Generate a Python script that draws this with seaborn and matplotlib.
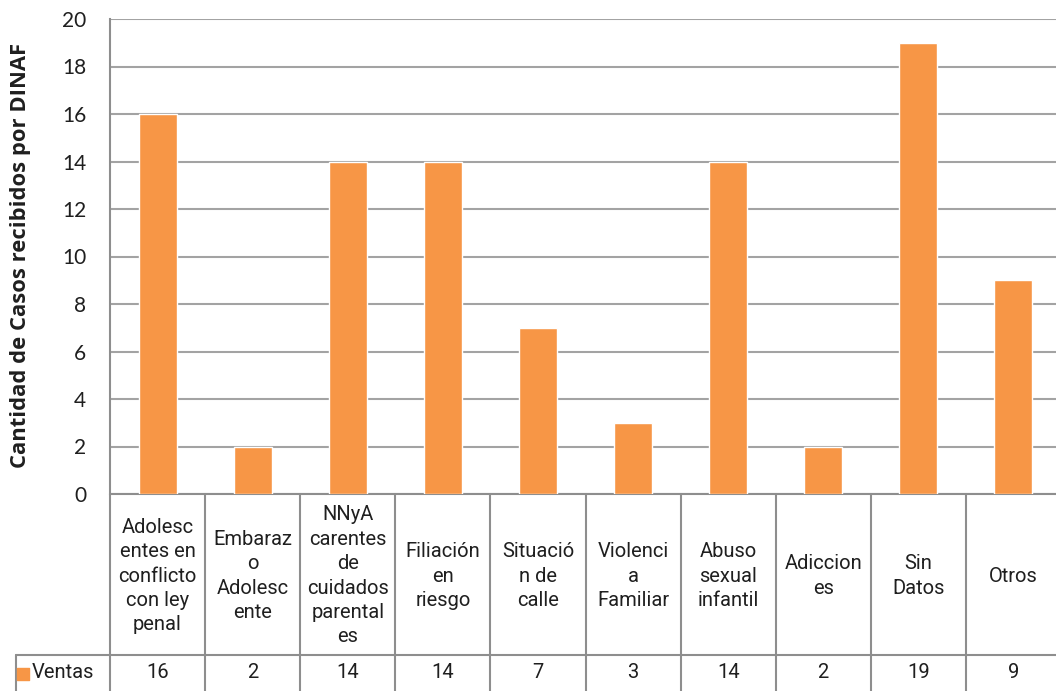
import matplotlib
matplotlib.use("Agg")
import pandas as pd
import seaborn as sns
import matplotlib.pyplot as plt
import matplotlib.transforms as mtransforms

# datos del gráfico
categorias = [
    "Adolesc\nentes en\nconflicto\ncon ley\npenal",
    "Embaraz\no\nAdolesc\nente",
    "NNyA\ncarentes\nde\ncuidados\nparental\nes",
    "Filiación\nen\nriesgo",
    "Situació\nn de\ncalle",
    "Violenci\na\nFamiliar",
    "Abuso\nsexual\ninfantil",
    "Adiccion\nes",
    "Sin\nDatos",
    "Otros",
]
casos = [16, 2, 14, 14, 7, 3, 14, 2, 19, 9]
serie = "Ventas"
y_ticks = [0, 2, 4, 6, 8, 10, 12, 14, 16, 18, 20]

naranja = "#F79646"
gris_grid = "#A3A3A3"
gris_tabla = "#8E8E8E"
texto = "#1F1F1F"

sns.set_style("white")
plt.rcParams["font.family"] = ["Lato", "DejaVu Sans"]

df = pd.DataFrame({"categoria": categorias, "casos": casos})

W, H = 1056, 691
fig = plt.figure(figsize=(W / 100, H / 100), dpi=100)
x0, x1 = 110, 1061
y_top, y_bot = 19, 494
ax = fig.add_axes([x0 / W, 1 - y_bot / H, (x1 - x0) / W, (y_bot - y_top) / H])

sns.barplot(data=df, x="categoria", y="casos", color=naranja, width=0.4,
            saturation=1, ax=ax, zorder=3)

ax.set_ylim(0, 20)
ax.set_xlim(-0.5, len(categorias) - 0.5)
ax.set_yticks(y_ticks)
ax.set_xticks([])
ax.set_xlabel("")
ax.set_ylabel("")
ax.tick_params(axis="y", length=0, pad=17, labelsize=15, labelcolor=texto)
ax.yaxis.grid(True, color=gris_grid, linewidth=1.5, zorder=0)
ax.set_axisbelow(True)
for s in ["top", "right", "bottom"]:
    ax.spines[s].set_visible(False)
ax.spines["left"].set_color(gris_tabla)
ax.spines["left"].set_linewidth(1.5)

# título del eje y, colocado en píxeles y ajustado a ~426 px de largo
ylab = fig.text(21 / W, 1 - 255 / H, "Cantidad de Casos recibidos por DINAF",
                rotation=90, ha="center", va="center", fontsize=14,
                fontweight="bold", color=texto, family=["Open Sans", "DejaVu Sans"])
renderer = fig.canvas.get_renderer()
largo = ylab.get_window_extent(renderer).height
ylab.set_fontsize(14 * 426 / largo)

# tabla de datos bajo el eje
tr = mtransforms.blended_transform_factory(ax.transData, ax.transAxes)
alto = y_bot - y_top
def ya(py):
    return (y_bot - py) / alto

y_fila = ya(655)
y_fin = ya(700)
n = len(categorias)
paso = (x1 - x0) / n
x_izq = -0.5 - (x0 - 16) / paso

lw = 1.5
ax.plot([-0.5, n - 0.5], [0, 0], transform=tr, color=gris_tabla, lw=lw, clip_on=False)
ax.plot([x_izq, n - 0.5], [y_fila, y_fila], transform=tr, color=gris_tabla, lw=lw, clip_on=False)
for i in range(n + 1):
    ax.plot([i - 0.5, i - 0.5], [0, y_fin], transform=tr, color=gris_tabla, lw=lw, clip_on=False)
ax.plot([x_izq, x_izq], [y_fila, y_fin], transform=tr, color=gris_tabla, lw=lw, clip_on=False)

fuente_tabla = ["Roboto", "DejaVu Sans"]
for i, (cat, v) in enumerate(zip(categorias, casos)):
    ax.text(i, ya(576), cat, transform=tr, ha="center", va="center",
            fontsize=14.5, linespacing=1.36, color=texto, family=fuente_tabla)
    ax.text(i, ya(673), str(v), transform=tr, ha="center", va="center",
            fontsize=14.5, color=texto, family=fuente_tabla)

ax.scatter([-0.5 - (x0 - 23) / paso], [ya(674)], transform=tr, marker="s",
           s=75, color=naranja, clip_on=False, zorder=5)
ax.text(-0.5 - (x0 - 32) / paso, ya(673), serie, transform=tr, ha="left",
        va="center", fontsize=14.5, color=texto, family=fuente_tabla)

fig.savefig("out.png", dpi=100)
